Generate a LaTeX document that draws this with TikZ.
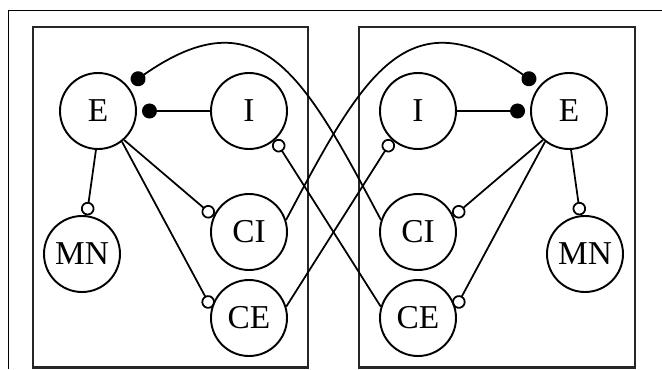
\documentclass[tikz,border=0pt]{standalone}
\usepackage{fontspec}
\setmainfont{Liberation Serif}
\usepackage{tikz}
\usetikzlibrary{arrows.meta, positioning}

\begin{document}
\begin{tikzpicture}[
  cell/.style={draw, circle, line width=1.1pt, minimum size=1.52cm, inner sep=0pt, font=\fontsize{19}{21}\selectfont},
  inh/.style={line width=1pt, -{Circle[length=3mm]}, shorten >=0.1cm},
  exc/.style={line width=1pt, -{Circle[open, length=2.7mm]}},
  panel/.style={draw=black!85, line width=1.3pt},
  rim/.style={line width=0.8pt}
]
\useasboundingbox (0,0) rectangle (13.24,7.38);
% outer frame, top and left side only
\draw[rim] (13.24,7.17) -- (0.166,7.17) -- (0.166,0);
% the two boxes
\draw[panel] (0.66,0.03) rectangle (6.16,6.84);
\draw[panel] (7.18,0.03) rectangle (12.70,6.84);

% Left network
\node[cell] (El) at (1.96,5.16) {E};
\node[cell] (Il) at (4.98,5.16) {I};
\node[cell] (CIl) at (4.98,2.74) {CI};
\node[cell] (CEl) at (4.98,1.02) {CE};
\node[cell] (MNl) at (1.64,2.30) {MN};
\draw[inh] (Il) -- (El);
\draw[exc] (El.-48) -- (CIl.156);
\draw[exc] (El.-52) -- (CEl.165);
\draw[exc] (El.-93) -- (MNl.83);

% Right network
\node[cell] (Er) at (11.38,5.16) {E};
\node[cell] (Ir) at (8.36,5.16) {I};
\node[cell] (CIr) at (8.36,2.74) {CI};
\node[cell] (CEr) at (8.36,1.02) {CE};
\node[cell] (MNr) at (11.70,2.30) {MN};
\draw[inh] (Ir) -- (Er);
\draw[exc] (Er.-132) -- (CIr.24);
\draw[exc] (Er.-128) -- (CEr.15);
\draw[exc] (Er.-87) -- (MNr.97);

% Crossed connections between the two sides
\draw[inh] (CIr.162) to[out=118, in=35, looseness=1.45] (El.40);
\draw[inh] (CIl.18) to[out=62, in=145, looseness=1.45] (Er.140);
\draw[exc] (CEr.163) -- (Il.-48);
\draw[exc] (CEl.17) -- (Ir.-132);
\end{tikzpicture}
\end{document}
